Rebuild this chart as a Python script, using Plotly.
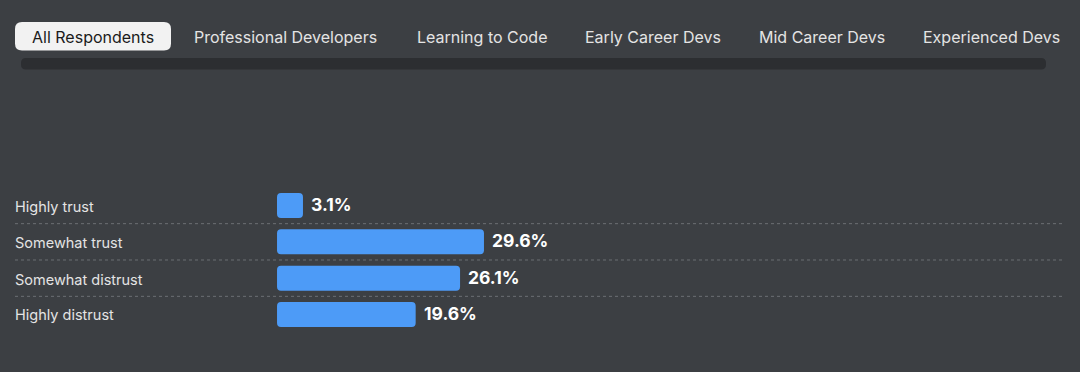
import plotly.graph_objects as go

# ---- data ----
tabs = ["All Respondents", "Professional Developers", "Learning to Code",
        "Early Career Devs", "Mid Career Devs", "Experienced Devs"]
categories = ["Highly trust", "Somewhat trust", "Somewhat distrust", "Highly distrust"]
values = [3.1, 29.6, 26.1, 19.6]

# ---- style constants ----
W, H = 1080, 372
BG = "#3c3f43"
BLUE = "#4d9bf7"
FONT = "Inter, 'Noto Sans', sans-serif"
PX_PER_PCT = 6.83
ZERO_PX = 281.8
BAR_PAD = 0.7          # bars start slightly left of zero
TAB_CENTERS = [93, 285.5, 481.5, 653, 822, 991.5]

def fx(px):
    return px / W

def fy(py):
    return 1 - py / H

def rrect(x0, y0, x1, y1, r):
    """rounded rect path in paper coords, inputs in pixels (y from top)"""
    pts = [
        f"M{fx(x0 + r)},{fy(y0)}",
        f"L{fx(x1 - r)},{fy(y0)}",
        f"Q{fx(x1)},{fy(y0)} {fx(x1)},{fy(y0 + r)}",
        f"L{fx(x1)},{fy(y1 - r)}",
        f"Q{fx(x1)},{fy(y1)} {fx(x1 - r)},{fy(y1)}",
        f"L{fx(x0 + r)},{fy(y1)}",
        f"Q{fx(x0)},{fy(y1)} {fx(x0)},{fy(y1 - r)}",
        f"L{fx(x0)},{fy(y0 + r)}",
        f"Q{fx(x0)},{fy(y0)} {fx(x0 + r)},{fy(y0)}",
        "Z",
    ]
    return " ".join(pts)

fig = go.Figure()
fig.add_trace(go.Bar(
    y=categories,
    x=[v + BAR_PAD for v in values],
    base=-BAR_PAD,
    orientation="h",
    marker=dict(color=BLUE, line=dict(width=0)),
    width=0.69,
    hoverinfo="skip",
))

shapes = []
# tab pill & scroll bar
shapes.append(dict(type="path", xref="paper", yref="paper",
                   path=rrect(15, 22, 171, 50.5, 7),
                   fillcolor="#f2f2f2", line=dict(width=0), layer="below"))
shapes.append(dict(type="path", xref="paper", yref="paper",
                   path=rrect(21, 58, 1046, 69.5, 5),
                   fillcolor="#2c2e31", line=dict(width=0), layer="below"))
# dotted separators between rows
for i in range(len(categories) - 1):
    shapes.append(dict(type="line", xref="paper", yref="y",
                       x0=fx(15), x1=fx(1063), y0=i + 0.5, y1=i + 0.5,
                       line=dict(color="#6c6f74", width=1, dash="dot"),
                       layer="below"))

annotations = []
for i, t in enumerate(tabs):
    annotations.append(dict(
        text=t, xref="paper", yref="paper", x=fx(TAB_CENTERS[i]), y=fy(37),
        xanchor="center", yanchor="middle", showarrow=False,
        font=dict(family=FONT, size=16,
                  color="#1b1b1b" if i == 0 else "#e4e4e4")))
for c in categories:
    annotations.append(dict(
        text=c, xref="paper", yref="y", x=fx(13), y=c,
        xanchor="left", yanchor="middle", yshift=-1, showarrow=False,
        font=dict(family=FONT, size=14.5, color="#e4e4e4")))
for c, v in zip(categories, values):
    annotations.append(dict(
        text=f"<b>{v:.1f}%</b>", xref="x", yref="y", x=v, y=c,
        xanchor="left", yanchor="middle", xshift=6, yshift=1, showarrow=False,
        font=dict(family=FONT, size=17.5, color="#ffffff")))

top_px = 205.5 - 36.33 / 2
bot_px = 314.5 + 36.33 / 2

fig.update_layout(
    width=W, height=H,
    margin=dict(l=0, r=0, t=0, b=0, pad=0),
    paper_bgcolor=BG, plot_bgcolor="rgba(0,0,0,0)",
    showlegend=False,
    barcornerradius=4,
    xaxis=dict(range=[-ZERO_PX / PX_PER_PCT, (W - ZERO_PX) / PX_PER_PCT],
               domain=[0, 1], visible=False, fixedrange=True),
    yaxis=dict(type="category", categoryorder="array", categoryarray=categories,
               range=[len(categories) - 0.5, -0.5],
               domain=[fy(bot_px), fy(top_px)], visible=False, fixedrange=True),
    shapes=shapes,
    annotations=annotations,
)

fig.write_html("out.html", config={"displayModeBar": False},
               post_script="document.body.style.margin='0';document.body.style.overflow='hidden';")
